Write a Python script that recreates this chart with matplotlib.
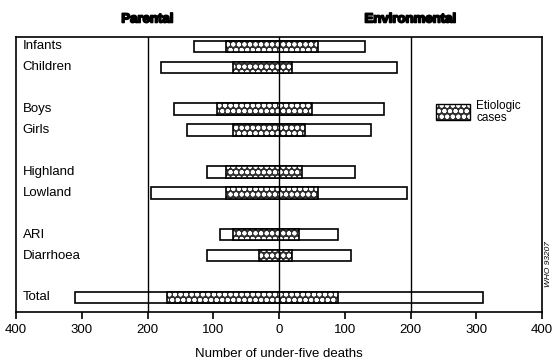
import matplotlib
matplotlib.use("Agg")
import matplotlib.pyplot as plt
import matplotlib.patheffects as pe
from matplotlib.patches import Rectangle

plt.rcParams['font.family'] = ['Liberation Sans', 'DejaVu Sans']
plt.rcParams['hatch.linewidth'] = 1.3

categories = ["Infants", "Children", "Boys", "Girls", "Highland", "Lowland",
              "ARI", "Diarrhoea", "Total"]
row_pos = [0, 1, 3, 4, 6, 7, 9, 10, 12]
# total range (parental side negative, environmental side positive)
total_left = [-130, -180, -160, -140, -110, -195, -90, -110, -310]
total_right = [130, 180, 160, 140, 115, 195, 90, 110, 310]
# etiologic cases
etio_left = [-80, -70, -95, -70, -80, -80, -70, -30, -170]
etio_right = [60, 20, 50, 40, 35, 60, 30, 20, 90]
xticks = [-400, -300, -200, -100, 0, 100, 200, 300, 400]
xticklabels = ["400", "300", "200", "100", "0", "100", "200", "300", "400"]

fig = plt.figure(figsize=(5.52, 3.59), dpi=100)
ax = fig.add_axes([0.029, 0.131, 0.953, 0.766])

h = 0.55
DARK = '#303030'
HATCH = 'ooo'
for y, l, r in zip(row_pos, total_left, total_right):
    ax.barh(y, r - l, left=l, height=h, color='white', edgecolor='black',
            linewidth=1.2, zorder=2)
for y, l, r in zip(row_pos, etio_left, etio_right):
    ax.barh(y, r - l, left=l, height=h, color=DARK, edgecolor='white',
            hatch=HATCH, linewidth=0, zorder=3)
    ax.barh(y, r - l, left=l, height=h, fill=False, edgecolor='black',
            linewidth=1.2, zorder=4)

for xv in (-200, 0, 200):
    ax.axvline(xv, color='black', linewidth=1.0, zorder=5)

for y, c in zip(row_pos, categories):
    ax.text(-390, y, c, ha='left', va='center', fontsize=9.5, zorder=6)

ax.set_xlim(-400, 400)
ax.set_ylim(12.7, -0.45)
ax.set_yticks([])
ax.set_xticks(xticks)
ax.set_xticklabels(xticklabels, fontsize=9.5)
ax.tick_params(axis='x', direction='out', length=5, width=1.2, pad=4)
for s in ax.spines.values():
    s.set_linewidth(1.2)
ax.set_xlabel("Number of under-five deaths", fontsize=9.5, labelpad=8)

heavy = [pe.withStroke(linewidth=1.2, foreground='black')]
ax.text(-200, -1.0, "Parental", ha='center', va='bottom', fontsize=9.5,
        fontweight='bold', path_effects=heavy)
ax.text(200, -1.0, "Environmental", ha='center', va='bottom', fontsize=9.5,
        fontweight='bold', path_effects=heavy)

# legend
lx, ly = 238, 3.1
ax.add_patch(Rectangle((lx, ly - 0.35), 52, 0.75, facecolor=DARK,
                       edgecolor='white', hatch=HATCH, linewidth=0, zorder=3))
ax.add_patch(Rectangle((lx, ly - 0.35), 52, 0.75, fill=False,
                       edgecolor='black', linewidth=1.0, zorder=4))
ax.text(lx + 62, ly + 0.05, "Etiologic\ncases", ha='left', va='center',
        fontsize=8.5, linespacing=0.95)

fig.text(0.994, 0.265, "WHO 93207", rotation=90, fontsize=6,
         ha='center', va='center', style='italic')

fig.savefig("out.png", dpi=100)
